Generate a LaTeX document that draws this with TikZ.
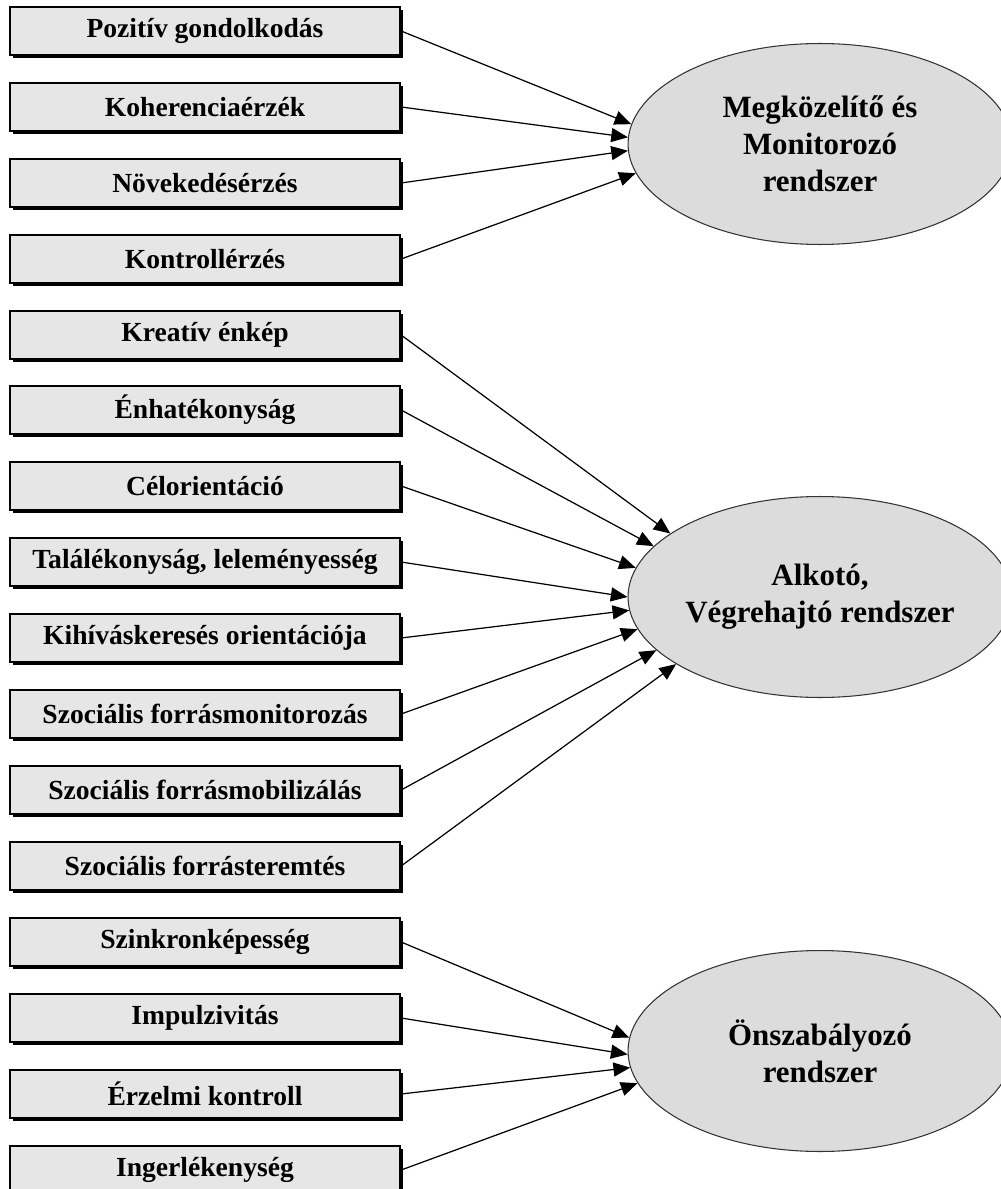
\documentclass[tikz,border=0pt]{standalone}
\usepackage{fontspec}
\setmainfont{Liberation Serif}
\usetikzlibrary{arrows.meta,shapes.geometric,shadows}

\definecolor{boxgray}{RGB}{230,230,230}
\definecolor{ellgray}{RGB}{220,220,220}

\tikzset{
    factor/.style={draw, line width=1.3pt, fill=boxgray, minimum width=7.8cm, minimum height=0.96cm, inner sep=0pt,
        font=\fontsize{15.7}{18}\selectfont\bfseries,
        drop shadow={shadow xshift=1.6pt, shadow yshift=-1.6pt, fill=black, opacity=1}},
    system/.style={ellipse, draw=black!80, line width=0.6pt, fill=ellgray, minimum width=7.68cm, minimum height=4.02cm,
        inner sep=0pt, align=center, font=\fontsize{17.6}{21}\selectfont\bfseries},
    link/.style={-{Triangle[length=9.5pt,width=8pt]}, line width=0.7pt}
}

\begin{document}
\begin{tikzpicture}[x=0.02cm, y=-0.02cm]
        \useasboundingbox (0,0) rectangle (1000,1189);

        %%systems
        \node[system] (megk) at (820,144) {Megközelítő és\\Monitorozó\\rendszer};
        \node[system] (alkoto) at (820,597) {Alkotó,\\Végrehajtó rendszer};
        \node[system] (onszab) at (820,1051) {Önszabályozó\\rendszer};

        %%group 1
        \node[factor] (pozitiv) at (205,31) {Pozitív gondolkodás};
        \node[factor] (koher) at (205,107) {Koherenciaérzék};
        \node[factor] (novek) at (205,183) {Növekedésérzés};
        \node[factor] (kontroll) at (205,259) {Kontrollérzés};

        %%group 2
        \node[factor] (kreativ) at (205,335) {Kreatív énkép};
        \node[factor] (enhat) at (205,410) {Énhatékonyság};
        \node[factor] (celor) at (205,486) {Célorientáció};
        \node[factor] (talal) at (205,562) {Találékonyság, leleményesség};
        \node[factor] (kihivas) at (205,638) {Kihíváskeresés orientációja};
        \node[factor] (szocmon) at (205,714) {Szociális forrásmonitorozás};
        \node[factor] (szocmob) at (205,790) {Szociális forrásmobilizálás};
        \node[factor] (szocter) at (205,866) {Szociális forrásteremtés};

        %%group 3
        \node[factor] (szinkron) at (205,942) {Szinkronképesség};
        \node[factor] (impulz) at (205,1018) {Impulzivitás};
        \node[factor] (erzelmi) at (205,1094) {Érzelmi kontroll};
        \node[factor] (ingerl) at (205,1170) {Ingerlékenység};

        %%arrows 1
        \draw[link] (pozitiv.east) -- (megk.174);
        \draw[link] (koher.east) -- (megk.178);
        \draw[link] (novek.east) -- (megk.182);
        \draw[link] (kontroll.east) -- (megk.189);

        %%arrows 2
        \draw[link] (kreativ.east) -- (alkoto.157);
        \draw[link] (enhat.east) -- (alkoto.163);
        \draw[link] (celor.east) -- (alkoto.171);
        \draw[link] (talal.east) -- (alkoto.180);
        \draw[link] (kihivas.east) -- (alkoto.184);
        \draw[link] (szocmon.east) -- (alkoto.190);
        \draw[link] (szocmob.east) -- (alkoto.198);
        \draw[link] (szocter.east) -- (alkoto.205);

        %%arrows 3
        \draw[link] (szinkron.east) -- (onszab.176);
        \draw[link] (impulz.east) -- (onszab.181);
        \draw[link] (erzelmi.east) -- (onszab.185);
        \draw[link] (ingerl.east) -- (onszab.190);

\end{tikzpicture}
\end{document}
